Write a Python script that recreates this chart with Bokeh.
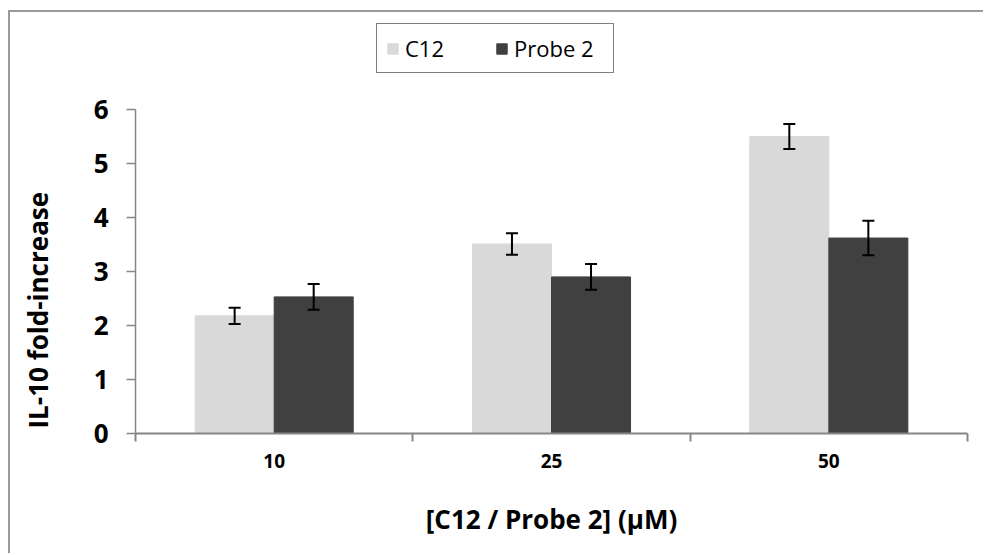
from bokeh.plotting import figure
from bokeh.models import (ColumnDataSource, Range1d, LinearAxis, Title,
                          FixedTicker, Whisker, TeeHead, Legend, LegendItem)
from bokeh.transform import dodge
from bokeh.embed import file_html
from bokeh.resources import INLINE

concentrations = ["10", "25", "50"]
c12_values = [2.18, 3.51, 5.50]
c12_errors = [0.15, 0.20, 0.23]
probe2_values = [2.53, 2.90, 3.62]
probe2_errors = [0.24, 0.24, 0.32]
series_names = ["C12", "Probe 2"]
y_ticks = [0, 1, 2, 3, 4, 5, 6]

FONT = "Open Sans"

n = len(concentrations)
centers = [i + 0.5 for i in range(n)]

src = ColumnDataSource(dict(
    xc=centers,
    c12=c12_values,
    c12_lo=[v - e for v, e in zip(c12_values, c12_errors)],
    c12_hi=[v + e for v, e in zip(c12_values, c12_errors)],
    p2=probe2_values,
    p2_lo=[v - e for v, e in zip(probe2_values, probe2_errors)],
    p2_hi=[v + e for v, e in zip(probe2_values, probe2_errors)],
))

# frame extends above the axis top (6) so that the legend fits inside it
y_max = max(y_ticks)
y_top = y_max * 413 / 324

p = figure(width=975, height=543, output_backend="svg", toolbar_location=None,
           x_range=Range1d(0, n), y_range=Range1d(0, y_top),
           x_axis_location=None, y_axis_location=None,
           min_border_left=125, min_border_right=18, min_border_top=8, min_border_bottom=122)
p.margin = (10, 0, 0, 8)
p.styles = {"border-left": "2px solid #9a9a9a", "border-top": "2px solid #9a9a9a"}
p.outline_line_color = None
p.xgrid.visible = False
p.ygrid.visible = False
p.background_fill_color = "white"
p.border_fill_color = "white"

bw = 0.285
off = bw / 2
r1 = p.vbar(x=dodge("xc", -off), top="c12", width=bw, source=src,
            fill_color="#D9D9D9", line_color="#D9D9D9")
r2 = p.vbar(x=dodge("xc", off), top="p2", width=bw, source=src,
            fill_color="#404040", line_color="#404040")

for lo, hi, o in [("c12_lo", "c12_hi", -off), ("p2_lo", "p2_hi", off)]:
    w = Whisker(base=dodge("xc", o), lower=lo, upper=hi, source=src,
                line_color="black", line_width=2, level="overlay",
                upper_head=TeeHead(size=12, line_color="black", line_width=2),
                lower_head=TeeHead(size=12, line_color="black", line_width=2))
    p.add_layout(w)

# y axis (a blank 1px label only widens the axis panel, pushing the title outward)
yax = LinearAxis(ticker=FixedTicker(ticks=y_ticks), bounds=(0, y_max), axis_label=" ")
yax.axis_line_color = "#868686"
yax.axis_line_width = 1.5
yax.major_tick_line_color = "#868686"
yax.major_tick_line_width = 1.5
yax.major_tick_in = 0
yax.major_tick_out = 9
yax.minor_tick_line_color = None
yax.major_label_text_font = FONT
yax.major_label_text_font_style = "bold"
yax.major_label_text_font_size = "26px"
yax.major_label_text_color = "black"
yax.major_label_standoff = 18
yax.axis_label_text_font_size = "1px"
yax.axis_label_standoff = 24
p.add_layout(yax, "left")

ytitle = Title(text="IL-10 fold-increase", align="left", offset=5, standoff=14,
               text_font=FONT, text_font_style="bold", text_font_size="26px",
               text_color="black")
p.add_layout(ytitle, "left")

# x axis: boundary ticks (no labels)
xt = LinearAxis(ticker=FixedTicker(ticks=list(range(n + 1))))
xt.axis_line_color = "#868686"
xt.axis_line_width = 2
xt.major_tick_line_color = "#868686"
xt.major_tick_line_width = 2
xt.major_tick_in = 0
xt.major_tick_out = 8
xt.minor_tick_line_color = None
xt.major_label_text_font_size = "0px"
xt.major_label_text_color = None
xt.major_label_standoff = 0
p.add_layout(xt, "below")

# x axis: category labels
xa = LinearAxis(ticker=FixedTicker(ticks=centers), axis_label="[C12 / Probe 2] (\u03bcM)",
                major_label_overrides={c: lab for c, lab in zip(centers, concentrations)})
xa.axis_line_color = None
xa.major_tick_line_color = None
xa.minor_tick_line_color = None
xa.major_label_text_font = FONT
xa.major_label_text_font_style = "bold"
xa.major_label_text_font_size = "19px"
xa.major_label_text_color = "black"
xa.major_label_standoff = 6
xa.axis_label_text_font = FONT
xa.axis_label_text_font_style = "bold"
xa.axis_label_text_font_size = "26px"
xa.axis_label_text_color = "black"
xa.axis_label_standoff = 30
p.add_layout(xa, "below")

legend = Legend(items=[LegendItem(label=series_names[0], renderers=[r1]),
                       LegendItem(label=series_names[1], renderers=[r2])],
                location=(241, 360), orientation="horizontal")
legend.border_line_color = "black"
legend.border_line_width = 1.5
legend.label_text_font = FONT
legend.label_text_font_size = "22px"
legend.label_text_color = "black"
legend.glyph_width = 13
legend.glyph_height = 13
legend.label_standoff = 6
legend.label_width = 90
legend.spacing = 0
legend.padding = 9
legend.label_height = 27
legend.margin = 0
legend.background_fill_alpha = 1
p.add_layout(legend, "center")

with open("out.html", "w") as f:
    f.write(file_html(p, INLINE))
